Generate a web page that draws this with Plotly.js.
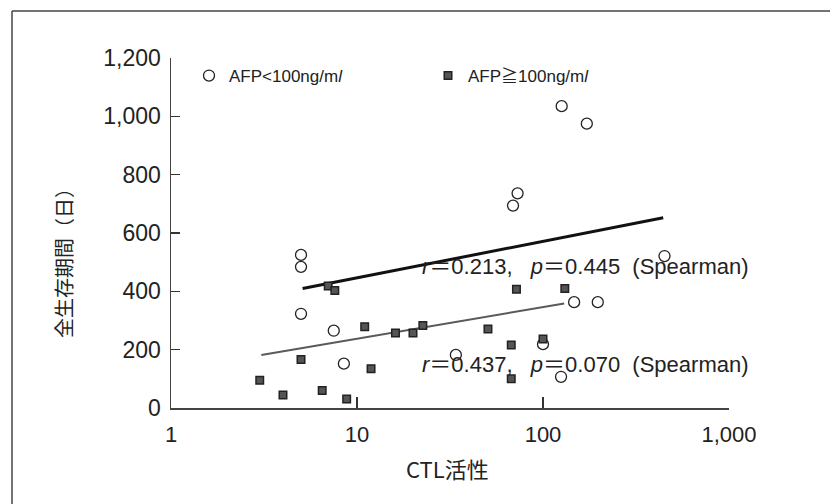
<!DOCTYPE html>
<html>
<head>
<meta charset="utf-8">
<script src="https://cdn.plot.ly/plotly-3.0.1.min.js"></script>
<style>html,body{margin:0;padding:0;background:#fff;}#chart{width:830px;height:504px;}</style>
</head>
<body>
<div id="chart"></div>
<script>
// AFP < 100 ng/ml (open circles)
const lowCTL = [5.0, 5.0, 5.0, 7.5, 8.5, 34, 69, 73, 100, 125, 126, 147, 172, 197, 450];
const lowOS  = [525, 484, 323, 265, 152, 182, 694, 736, 219, 107, 1035, 363, 975, 363, 521];
// AFP >= 100 ng/ml (filled squares)
const highCTL = [3.0, 4.0, 5.0, 6.5, 7.0, 7.6, 8.8, 11.0, 11.9, 16.1, 20.0, 22.6, 50.6, 67.5, 67.5, 72, 100, 131];
const highOS  = [95, 45, 166, 60, 418, 403, 31, 279, 135, 257, 257, 283, 271, 216, 100, 407, 237, 410];
// regression lines (end points)
const fitLowX = [5.1, 443];
const fitLowY = [410, 652];
const fitHighX = [3.06, 130];
const fitHighY = [182, 358];
const xTickVals = [1, 10, 100, 1000];
const xTickText = ['1', '10', '100', '1,000'];
const yTickVals = [0, 200, 400, 600, 800, 1000, 1200];
const legendLow = 'AFP&lt;100ng/m<i>l</i>';
const legendHigh = 'AFP≧100ng/m<i>l</i>';
const statLow = '<i>r</i>＝0.213,&nbsp;&nbsp;&nbsp;<i>p</i>＝0.445&nbsp;&nbsp;(Spearman)';
const statHigh = '<i>r</i>＝0.437,&nbsp;&nbsp;&nbsp;<i>p</i>＝0.070&nbsp;&nbsp;(Spearman)';
const xTitle = 'CTL活性';
const yTitle = '全生存期間（日）';

const FONT = 'Liberation Sans, Arial, Noto Sans CJK JP, sans-serif';
const CJK = 'Noto Sans CJK JP, sans-serif';

const traces = [
  {x: fitLowX, y: fitLowY, mode: 'lines', type: 'scatter', line: {color: '#111', width: 3}, showlegend: false, hoverinfo: 'skip'},
  {x: fitHighX, y: fitHighY, mode: 'lines', type: 'scatter', line: {color: '#5a5a5a', width: 2}, showlegend: false, hoverinfo: 'skip'},
  {x: lowCTL, y: lowOS, mode: 'markers', type: 'scatter', name: legendLow,
   marker: {symbol: 'circle-open', size: 11, color: '#222', line: {width: 1.3, color: '#222'}}},
  {x: highCTL, y: highOS, mode: 'markers', type: 'scatter', name: legendHigh,
   marker: {symbol: 'square', size: 7.5, color: '#555', line: {width: 1.5, color: '#222'}}}
];

const L = 171, R = 101, T = 58, B = 96;
const pw = 830 - L - R, ph = 504 - T - B;
function px(xp){ return (xp - L) / pw; }
function py(yp){ return (504 - B - yp) / ph; }

const layout = {
  width: 830, height: 504,
  margin: {l: L, r: R, t: T, b: B, pad: 0},
  paper_bgcolor: '#fff', plot_bgcolor: '#fff',
  font: {family: FONT, size: 20, color: '#222'},
  xaxis: {
    type: 'log', range: [0, 3], tickvals: xTickVals, ticktext: xTickText,
    ticks: 'inside', ticklen: 11, tickwidth: 1.3, tickcolor: '#333',
    showline: true, linecolor: '#444', linewidth: 1.5, showgrid: false, zeroline: false,
    tickfont: {size: 22, color: '#222'}, mirror: false, ticklabelstandoff: 6
  },
  yaxis: {
    range: [0, 1200], tickvals: yTickVals, tickformat: ',d',
    ticks: 'inside', ticklen: 9, tickwidth: 1.3, tickcolor: '#333',
    showline: true, linecolor: '#444', linewidth: 1.5, showgrid: false, zeroline: false,
    tickfont: {size: 23, color: '#222'}, ticklabelstandoff: 4
  },
  showlegend: true,
  legend: {orientation: 'h', x: px(189), y: py(58), xanchor: 'left', yanchor: 'top',
           font: {family: FONT, size: 17, color: '#222'}, bgcolor: 'rgba(0,0,0,0)',
           entrywidth: 194, itemwidth: 30, tracegroupgap: 0},
  annotations: [
    {xref: 'paper', yref: 'paper', x: px(420), y: py(266), xanchor: 'left', yanchor: 'middle',
     text: statLow, showarrow: false, font: {family: FONT, size: 22, color: '#222'}},
    {xref: 'paper', yref: 'paper', x: px(420), y: py(364), xanchor: 'left', yanchor: 'middle',
     text: statHigh, showarrow: false, font: {family: FONT, size: 22, color: '#222'}},
    {xref: 'paper', yref: 'paper', x: px(447), y: py(468), xanchor: 'center', yanchor: 'middle',
     text: xTitle, showarrow: false, font: {family: CJK, size: 22, color: '#222'}},
    {xref: 'paper', yref: 'paper', x: px(63), y: py(258), xanchor: 'center', yanchor: 'middle',
     text: yTitle, textangle: -90, showarrow: false, font: {family: CJK, size: 20, color: '#222'}}
  ],
  shapes: [
    {type: 'line', xref: 'paper', yref: 'paper', x0: px(12), x1: px(830), y0: py(11), y1: py(11), line: {color: '#444', width: 1.5}},
    {type: 'line', xref: 'paper', yref: 'paper', x0: px(12), x1: px(12), y0: py(11), y1: py(504), line: {color: '#444', width: 1.5}}
  ]
};

Plotly.newPlot('chart', traces, layout, {staticPlot: true, displayModeBar: false});
</script>
</body>
</html>
